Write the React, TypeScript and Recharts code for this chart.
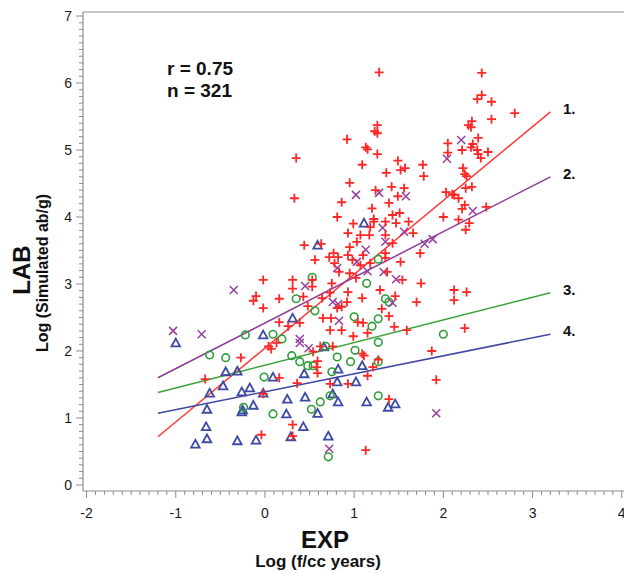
import React from 'react';
import { ScatterChart, Scatter, XAxis, YAxis, ReferenceLine, ReferenceDot } from 'recharts';

// ---- axes ----
const xMajorTicks = [-2, -1, 0, 1, 2, 3, 4];
const yMajorTicks = [0, 1, 2, 3, 4, 5, 6, 7];
const xDomain: [number, number] = [-2.04, 4.025];
const yDomain: [number, number] = [-0.09, 7.06];

// ---- series (x = Log EXP, y = Log LAB) ----
const triangleSeries: [number, number][] = [
  [-1.0, 2.12], [-0.44, 1.69], [-0.31, 1.7], [-0.47, 1.48], [-0.62, 1.37], [-0.65, 1.13], [-0.26, 1.39],
  [-0.17, 1.45], [-0.02, 1.37], [-0.13, 1.19], [-0.26, 1.09], [-0.66, 0.87], [-0.65, 0.69], [-0.78, 0.61],
  [-0.31, 0.66], [-0.1, 0.67], [-0.02, 2.24], [0.09, 1.61], [0.25, 1.28], [0.24, 1.06], [0.45, 1.31],
  [0.43, 0.87], [0.29, 0.72], [0.59, 1.07], [1.11, 3.91], [0.59, 3.58], [0.31, 2.49], [0.66, 2.06],
  [0.44, 1.66], [0.82, 1.73], [1.09, 1.78], [0.81, 1.54], [1.02, 1.54], [0.76, 1.36], [0.82, 1.24],
  [1.14, 1.24], [1.38, 1.16], [1.46, 1.21], [0.71, 0.73], [-0.25, 1.12],
];

const circleSeries: [number, number][] = [
  [-0.22, 2.24], [0.09, 2.25], [-0.62, 1.94], [-0.44, 1.9], [-0.01, 1.61], [-0.24, 1.16], [0.09, 1.06],
  [0.52, 1.13], [0.62, 1.24], [1.27, 3.37], [0.53, 3.1], [1.14, 3.01], [0.35, 2.78], [1.35, 2.78],
  [1.39, 2.73], [0.56, 2.6], [1.0, 2.51], [1.27, 2.48], [1.2, 2.37], [0.19, 2.18], [2.0, 2.25],
  [0.68, 2.07], [1.27, 2.13], [0.3, 1.93], [0.39, 1.84], [0.48, 1.78], [0.54, 1.78], [0.81, 1.91],
  [1.01, 2.01], [0.96, 1.84], [1.27, 1.84], [0.75, 1.69], [0.73, 1.33], [1.27, 1.33], [0.71, 0.42],
];

const crossSeries: [number, number][] = [
  [-1.03, 2.3], [-0.71, 2.25], [-0.35, 2.91], [1.32, 3.84], [1.56, 3.78], [1.35, 3.63], [1.79, 3.6],
  [1.88, 3.67], [1.13, 3.51], [1.03, 3.33], [0.81, 3.24], [1.15, 3.19], [1.33, 3.18], [1.47, 3.07],
  [0.45, 2.97], [0.76, 2.73], [0.82, 2.7], [1.43, 2.72], [0.83, 2.45], [0.39, 2.18], [0.39, 2.12],
  [0.49, 2.04], [1.92, 1.07], [0.72, 0.54], [1.02, 4.33], [1.28, 4.36], [1.58, 4.31], [2.04, 4.87],
  [2.2, 5.15], [2.33, 4.09],
];

const plusSeries: [number, number][] = [
  [-0.02, 3.06], [-0.1, 2.82], [-0.13, 2.75], [0.16, 2.78], [-0.02, 2.64], [0.16, 2.43], [0.04, 2.07],
  [0.07, 2.03], [0.13, 2.12], [-0.27, 1.9], [-0.67, 1.58], [-0.02, 1.36], [-0.04, 0.75], [0.31, 0.9],
  [0.31, 0.73], [0.36, 1.52], [0.73, 1.51], [0.93, 1.51], [1.39, 1.28], [1.13, 0.52], [1.92, 1.57],
  [0.99, 3.9], [1.22, 3.93], [1.35, 3.93], [1.47, 3.91], [1.61, 3.93], [0.93, 3.76], [1.07, 3.73],
  [1.17, 3.73], [1.35, 3.73], [1.66, 3.76], [0.44, 3.58], [0.63, 3.6], [1.03, 3.63], [1.43, 3.61],
  [0.95, 3.55], [0.77, 3.46], [0.72, 3.4], [0.82, 3.4], [0.93, 3.43], [1.1, 3.43], [1.35, 3.46],
  [1.74, 3.46], [0.56, 3.36], [0.78, 3.31], [0.98, 3.36], [1.07, 3.28], [1.18, 3.31], [1.35, 3.39],
  [1.52, 3.33], [0.31, 3.06], [0.53, 3.06], [0.83, 3.18], [0.95, 3.16], [0.75, 3.01], [1.02, 3.09],
  [1.37, 3.18], [1.54, 3.06], [1.75, 3.01], [0.31, 2.93], [0.53, 2.96], [0.73, 2.87], [0.93, 2.88],
  [1.29, 2.91], [0.43, 2.81], [0.64, 2.79], [0.92, 2.73], [1.09, 2.79], [1.46, 2.82], [1.7, 2.73],
  [0.48, 2.67], [0.81, 2.64], [0.86, 2.66], [1.31, 2.63], [0.65, 2.49], [0.74, 2.49], [1.39, 2.52],
  [0.26, 2.37], [0.39, 2.42], [0.73, 2.31], [0.86, 2.31], [1.04, 2.43], [1.1, 2.42], [1.45, 2.36],
  [1.59, 2.31], [0.99, 2.22], [1.15, 2.27], [0.62, 2.07], [0.76, 2.07], [0.54, 1.99], [1.09, 1.96],
  [1.11, 1.93], [1.87, 2.0], [0.59, 1.85], [0.58, 1.76], [0.59, 1.67], [1.27, 1.87], [1.21, 1.76],
  [1.15, 1.63], [0.16, 1.6], [1.28, 6.16], [1.26, 5.37], [1.23, 5.28], [1.26, 5.25], [0.92, 5.16],
  [1.13, 5.04], [1.15, 5.01], [1.26, 4.94], [0.35, 4.88], [1.09, 4.78], [1.49, 4.84], [1.52, 4.7],
  [1.57, 4.73], [1.36, 4.66], [1.77, 4.78], [1.78, 4.61], [0.95, 4.51], [1.42, 4.45], [1.56, 4.43],
  [1.24, 4.4], [0.33, 4.28], [0.86, 4.22], [1.49, 4.31], [1.39, 4.21], [1.2, 4.13], [1.43, 4.03],
  [1.51, 4.06], [0.81, 4.0], [1.22, 3.97], [1.18, 3.85], [2.0, 4.0], [2.03, 4.37], [2.05, 5.1],
  [2.05, 4.96], [2.43, 6.15], [2.43, 5.82], [2.38, 5.76], [2.54, 5.72], [2.8, 5.55], [2.54, 5.46],
  [2.32, 5.43], [2.28, 5.37], [2.31, 5.34], [2.39, 5.18], [2.21, 5.0], [2.31, 5.04], [2.33, 5.09],
  [2.38, 5.0], [2.39, 4.94], [2.5, 4.97], [2.42, 4.88], [2.22, 4.73], [2.24, 4.64], [2.26, 4.61],
  [2.25, 4.43], [2.32, 4.45], [2.1, 4.34], [2.12, 4.33], [2.17, 4.28], [2.24, 4.18], [2.21, 4.12],
  [2.48, 4.15], [2.17, 3.96], [2.29, 3.91], [2.25, 3.81], [2.12, 2.91], [2.26, 2.88], [2.12, 2.76],
  [2.24, 2.34],
];

// ---- regression lines ----
const lineNames = ['1.', '2.', '3.', '4.'];
const lineStartX = -1.2;
const lineEndX = 3.2;
const lineStartY = [0.72, 1.6, 1.38, 1.07];
const lineEndY = [5.57, 4.6, 2.87, 2.25];
const lineLabelX = 3.41;

const statLines = ['r = 0.75', 'n = 321'];

// ---- styles ----
const AXIS = '#8c8c8c';
const RED = '#ff2626';
const PURPLE = '#93409f';
const GREEN = '#2f9e3a';
const BLUE = '#3d4aa5';
const lineColors = ['#ff3b3b', '#8e3a98', '#3aa23a', '#3f47a2'];
const TICK_FONT = "'Liberation Sans', Arial, sans-serif";
const TITLE_FONT = "'Liberation Sans Narrow', 'Liberation Sans', Arial, sans-serif";

const toPts = (a: [number, number][]) => a.map(([x, y]) => ({ x, y }));

const minorOf = (majors: number[]) => {
  const out: number[] = [];
  for (let i = 0; i < majors.length - 1; i++) {
    for (let k = 0; k < 10; k++) out.push(Math.round((majors[i] + k / 10) * 10) / 10);
  }
  out.push(majors[majors.length - 1]);
  return out;
};
const xTicks = minorOf(xMajorTicks);
const yTicks = minorOf(yMajorTicks);
const isMajor = (v: number) => Math.abs(v - Math.round(v)) < 1e-6;

const XTick = (props: any) => {
  const { x, y, payload } = props;
  const v = payload.value;
  const major = isMajor(v);
  return (
    <g>
      <line x1={x} x2={x} y1={y} y2={y + (major ? 7 : 4)} stroke={AXIS} strokeWidth={1} />
      {major && (
        <text x={x} y={y + 27} textAnchor="middle" fontSize={14} fill="#1a1a1a" fontFamily={TICK_FONT}>
          {String(Math.round(v))}
        </text>
      )}
    </g>
  );
};

const YTick = (props: any) => {
  const { x, y, payload } = props;
  const v = payload.value;
  const major = isMajor(v);
  return (
    <g>
      <line x1={x} x2={x - (major ? 7 : 4)} y1={y} y2={y} stroke={AXIS} strokeWidth={1} />
      {major && (
        <text x={x - 11} y={y + 5} textAnchor="end" fontSize={14} fill="#1a1a1a" fontFamily={TICK_FONT}>
          {String(Math.round(v))}
        </text>
      )}
    </g>
  );
};

const PlusShape = (p: any) => {
  const { cx, cy } = p;
  const s = 4.5;
  return <path d={`M${cx - s},${cy}H${cx + s}M${cx},${cy - s}V${cy + s}`} stroke={RED} strokeWidth={1.8} fill="none" />;
};
const CrossShape = (p: any) => {
  const { cx, cy } = p;
  const s = 4;
  return (
    <path d={`M${cx - s},${cy - s}L${cx + s},${cy + s}M${cx - s},${cy + s}L${cx + s},${cy - s}`} stroke={PURPLE} strokeWidth={1.5} fill="none" />
  );
};
const CircleShape = (p: any) => {
  const { cx, cy } = p;
  return <circle cx={cx} cy={cy} r={3.8} stroke={GREEN} strokeWidth={1.6} fill="none" />;
};
const TriangleShape = (p: any) => {
  const { cx, cy } = p;
  return (
    <path d={`M${cx},${cy - 4.3}L${cx + 4.3},${cy + 3.5}L${cx - 4.3},${cy + 3.5}Z`} stroke={BLUE} strokeWidth={1.8} fill="none" strokeLinejoin="miter" />
  );
};

export default function App() {
  return (
    <div style={{ position: 'absolute', left: 0, top: 0, width: 624, height: 573, background: '#fff' }}>
      <ScatterChart width={624} height={573} margin={{ top: 12, right: 0, bottom: 0, left: 0 }}>
        <XAxis
          type="number"
          dataKey="x"
          domain={xDomain}
          allowDataOverflow
          ticks={xTicks}
          interval={0}
          tickSize={0}
          tickMargin={0}
          tickLine={false}
          tick={<XTick />}
          height={82}
          stroke={AXIS}
          axisLine={{ stroke: AXIS, strokeWidth: 1.2 }}
        />
        <YAxis
          type="number"
          dataKey="y"
          domain={yDomain}
          allowDataOverflow
          ticks={yTicks}
          interval={0}
          tickSize={0}
          tickMargin={0}
          tickLine={false}
          tick={<YTick />}
          width={83}
          stroke={AXIS}
          axisLine={{ stroke: AXIS, strokeWidth: 1.2 }}
        />
        <ReferenceLine y={yDomain[1]} stroke={AXIS} strokeWidth={1.2} />
        <Scatter data={toPts(triangleSeries)} shape={TriangleShape} isAnimationActive={false} />
        <Scatter data={toPts(circleSeries)} shape={CircleShape} isAnimationActive={false} />
        <Scatter data={toPts(crossSeries)} shape={CrossShape} isAnimationActive={false} />
        <Scatter data={toPts(plusSeries)} shape={PlusShape} isAnimationActive={false} />
        {lineNames.map((n, i) => (
          <ReferenceLine
            key={'l' + n}
            segment={[
              { x: lineStartX, y: lineStartY[i] },
              { x: lineEndX, y: lineEndY[i] },
            ]}
            stroke={lineColors[i]}
            strokeWidth={1.5}
          />
        ))}
        {lineNames.map((n, i) => (
          <ReferenceDot
            key={'d' + n}
            x={lineLabelX}
            y={lineEndY[i] + 0.05}
            r={0}
            fill="none"
            stroke="none"
            label={{ value: n, position: 'center', fill: '#111', fontSize: 15, fontWeight: 'bold', fontFamily: TICK_FONT }}
          />
        ))}
      </ScatterChart>
      <svg width={624} height={573} style={{ position: 'absolute', left: 0, top: 0, pointerEvents: 'none' }}>
        <g fontFamily={TITLE_FONT} fontWeight="bold" fill="#111">
          <text x={167} y={75} fontSize={19} fontFamily={TICK_FONT}>{statLines[0]}</text>
          <text x={167} y={97} fontSize={19} fontFamily={TICK_FONT}>{statLines[1]}</text>
          <text x={325} y={548} fontSize={24} textAnchor="middle">EXP</text>
          <text x={318} y={567} fontSize={17} textAnchor="middle" fontFamily={TICK_FONT}>Log (f/cc years)</text>
          <text transform="translate(30,270) rotate(-90)" fontSize={24} textAnchor="middle">LAB</text>
          <text transform="translate(48,273) rotate(-90)" fontSize={16} textAnchor="middle" fontFamily={TICK_FONT}>Log (Simulated ab/g)</text>
        </g>
      </svg>
    </div>
  );
}
